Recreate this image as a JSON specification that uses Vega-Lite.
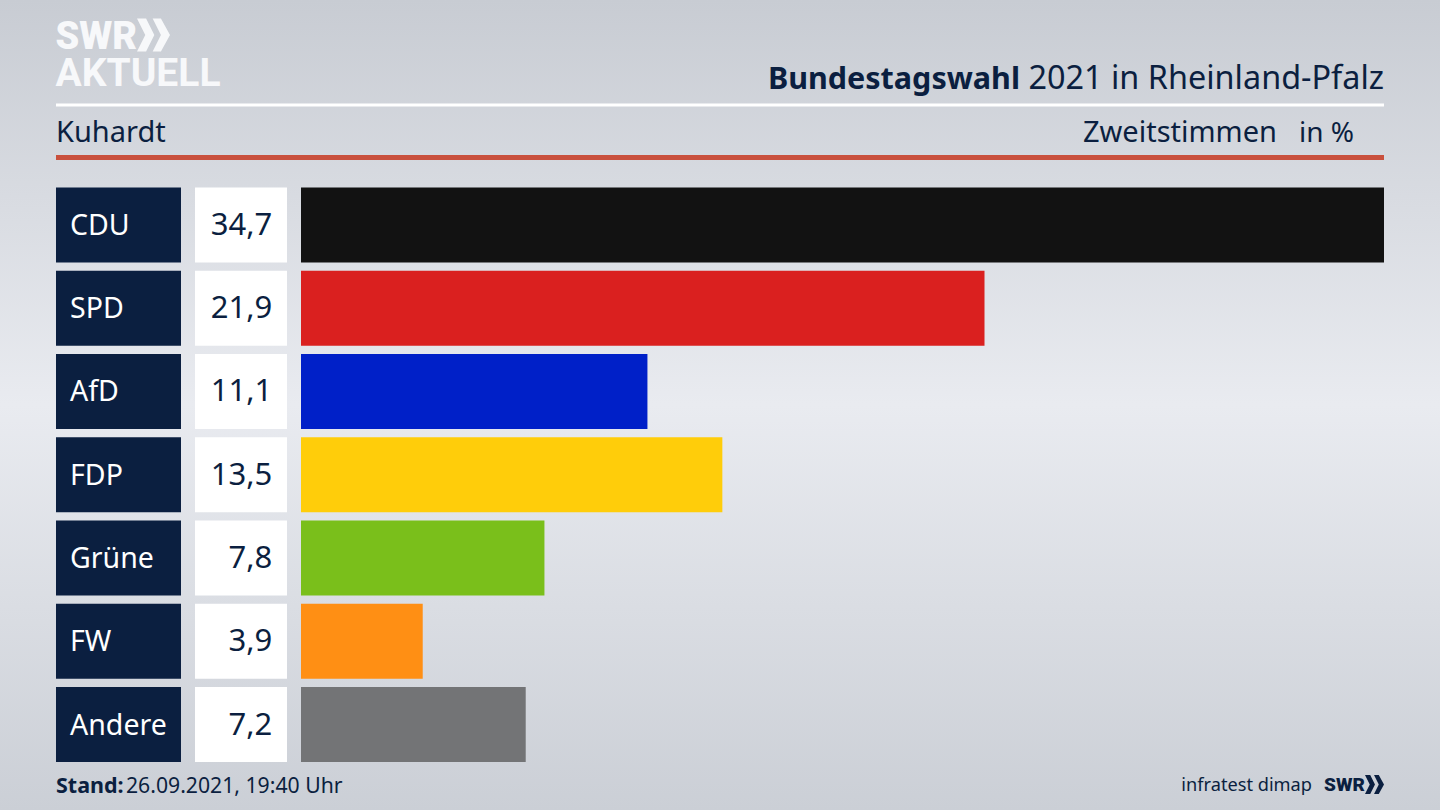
{
  "$schema": "https://vega.github.io/schema/vega-lite/v6.json",
  "width": 1440,
  "height": 810,
  "autosize": {"type": "fit", "contains": "padding"},
  "padding": 0,
  "background": "#d5d8de",
  "config": {
    "view": {
      "stroke": null,
      "fill": {
        "gradient": "linear",
        "x1": 0, "y1": 0,
        "x2": 0, "y2": 1,
        "stops": [
          {"offset": 0, "color": "#c8ccd3"},
          {"offset": 0.5, "color": "#e9ebf0"},
          {"offset": 1, "color": "#cbcfd6"}
        ]
      }
    },
    "text": {"font": "Noto Sans", "color": "#0b1f40"}
  },
  "datasets": {
    "results": [
      {"party": "CDU", "share": 34.7, "label": "34,7"},
      {"party": "SPD", "share": 21.9, "label": "21,9"},
      {"party": "AfD", "share": 11.1, "label": "11,1"},
      {"party": "FDP", "share": 13.5, "label": "13,5"},
      {"party": "Grüne", "share": 7.8, "label": "7,8"},
      {"party": "FW", "share": 3.9, "label": "3,9"},
      {"party": "Andere", "share": 7.2, "label": "7,2"}
    ],
    "one": [{"n": 1}]
  },
  "layer": [
    {
      "data": {"name": "results"},
      "encoding": {
        "y": {
          "field": "party",
          "type": "nominal",
          "sort": null,
          "axis": null,
          "scale": {"range": [187.5, 762], "paddingInner": 0.1, "paddingOuter": 0}
        }
      },
      "layer": [
        {
          "mark": {"type": "bar", "color": "#0b1f40"},
          "encoding": {
            "x": {"datum": -7.85, "type": "quantitative", "axis": null, "scale": {"domain": [0, 34.7], "range": [301, 1384], "nice": false, "zero": false}},
            "x2": {"datum": -3.845}
          }
        },
        {
          "mark": {"type": "bar", "color": "#ffffff"},
          "encoding": {
            "x": {"datum": -3.396, "type": "quantitative"},
            "x2": {"datum": -0.449}
          }
        },
        {
          "mark": {"type": "bar"},
          "encoding": {
            "x": {"field": "share", "type": "quantitative"},
            "color": {
              "field": "party",
              "type": "nominal",
              "legend": null,
              "scale": {
                "domain": ["CDU", "SPD", "AfD", "FDP", "Grüne", "FW", "Andere"],
                "range": ["#121212", "#da201f", "#0020c8", "#ffcd0a", "#7abf1b", "#ff8f14", "#737476"]
              }
            }
          }
        },
        {
          "mark": {"type": "text", "align": "left", "baseline": "middle", "dy": 1, "fontSize": 28.5, "color": "#ffffff"},
          "encoding": {
            "x": {"datum": -7.4, "type": "quantitative"},
            "text": {"field": "party"}
          }
        },
        {
          "mark": {"type": "text", "align": "right", "baseline": "middle", "dy": 1, "fontSize": 31},
          "encoding": {
            "x": {"datum": -0.92, "type": "quantitative"},
            "text": {"field": "label"}
          }
        }
      ]
    },
    {
      "data": {"name": "one"},
      "encoding": {
        "x": {"type": "quantitative", "axis": null, "scale": {"domain": [0, 1440], "range": [0, 1440], "nice": false, "zero": false}},
        "y": {"type": "quantitative", "axis": null, "scale": {"domain": [0, 810], "range": [0, 810], "nice": false, "zero": false}}
      },
      "layer": [
        {
          "mark": {"type": "rule", "color": "#ffffff", "strokeWidth": 3},
          "encoding": {"x": {"datum": 56}, "x2": {"datum": 1384}, "y": {"datum": 105}}
        },
        {
          "mark": {"type": "rule", "color": "#c9503d", "strokeWidth": 5},
          "encoding": {"x": {"datum": 56}, "x2": {"datum": 1384}, "y": {"datum": 157.5}}
        },
        {
          "mark": {"type": "text", "text": "SWR", "align": "left", "baseline": "alphabetic", "font": "Roboto", "fontWeight": 900, "fontSize": 38, "color": "#f7f8fa"},
          "encoding": {"x": {"datum": 55.5}, "y": {"datum": 49}}
        },
        {
          "mark": {"type": "point", "filled": true, "opacity": 1, "color": "#f7f8fa", "size": 1089, "shape": "M-1,-1 L-0.45,-1 L0.05,0 L-0.45,1 L-1,1 L-0.5,0 Z M-0.05,-1 L0.45,-1 L1,0 L0.45,1 L-0.05,1 L0.45,0 Z"},
          "encoding": {"x": {"datum": 153.5}, "y": {"datum": 35}}
        },
        {
          "mark": {"type": "text", "text": "AKTUELL", "align": "left", "baseline": "alphabetic", "font": "Roboto", "fontWeight": 700, "fontSize": 39, "color": "#f7f8fa"},
          "encoding": {"x": {"datum": 55.5}, "y": {"datum": 86}}
        },
        {
          "mark": {"type": "text", "text": "Bundestagswahl", "align": "right", "baseline": "alphabetic", "fontSize": 30.5, "fontWeight": 700},
          "encoding": {"x": {"datum": 1020}, "y": {"datum": 89}}
        },
        {
          "mark": {"type": "text", "text": "2021 in Rheinland-Pfalz", "align": "right", "baseline": "alphabetic", "fontSize": 32.4},
          "encoding": {"x": {"datum": 1384}, "y": {"datum": 89}}
        },
        {
          "mark": {"type": "text", "text": "Kuhardt", "align": "left", "baseline": "alphabetic", "fontSize": 29},
          "encoding": {"x": {"datum": 56}, "y": {"datum": 142}}
        },
        {
          "mark": {"type": "text", "text": "Zweitstimmen", "align": "right", "baseline": "alphabetic", "fontSize": 29},
          "encoding": {"x": {"datum": 1277}, "y": {"datum": 142}}
        },
        {
          "mark": {"type": "text", "text": "in %", "align": "right", "baseline": "alphabetic", "fontSize": 28},
          "encoding": {"x": {"datum": 1354}, "y": {"datum": 142}}
        },
        {
          "mark": {"type": "text", "text": "Stand:", "align": "left", "baseline": "alphabetic", "fontSize": 21.5, "fontWeight": 700},
          "encoding": {"x": {"datum": 56}, "y": {"datum": 793}}
        },
        {
          "mark": {"type": "text", "text": "26.09.2021, 19:40 Uhr", "align": "left", "baseline": "alphabetic", "fontSize": 21.2},
          "encoding": {"x": {"datum": 126}, "y": {"datum": 793}}
        },
        {
          "mark": {"type": "text", "text": "infratest dimap", "align": "right", "baseline": "alphabetic", "fontSize": 18.2},
          "encoding": {"x": {"datum": 1312}, "y": {"datum": 791}}
        },
        {
          "mark": {"type": "text", "text": "SWR", "align": "left", "baseline": "alphabetic", "font": "Roboto", "fontWeight": 900, "fontSize": 19},
          "encoding": {"x": {"datum": 1324}, "y": {"datum": 791}}
        },
        {
          "mark": {"type": "point", "filled": true, "opacity": 1, "color": "#0b1f40", "size": 361, "shape": "M-1,-1 L-0.45,-1 L0.05,0 L-0.45,1 L-1,1 L-0.5,0 Z M-0.05,-1 L0.45,-1 L1,0 L0.45,1 L-0.05,1 L0.45,0 Z"},
          "encoding": {"x": {"datum": 1374.5}, "y": {"datum": 784.5}}
        }
      ]
    }
  ],
  "resolve": {"scale": {"x": "independent", "y": "independent"}}
}
